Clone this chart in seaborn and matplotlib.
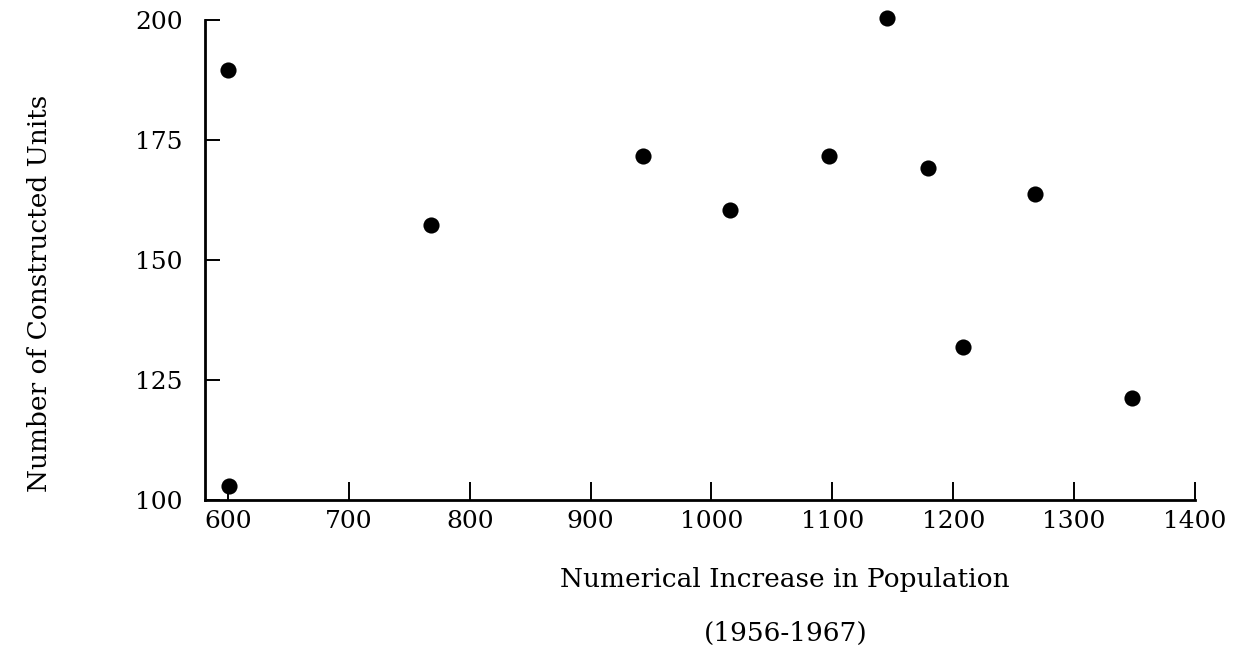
"""Scatter: constructed units vs numerical increase in population (1956-1967)."""
import matplotlib
matplotlib.use("Agg")
import matplotlib.pyplot as plt
import pandas as pd
import seaborn as sns

# values
pop_increase = [600, 601, 768, 943, 1015, 1097, 1145, 1179, 1208, 1268, 1348]
units_built = [189.5, 103, 157.3, 171.6, 160.4, 171.6, 200.4, 169.2, 131.8, 163.8, 121.3]
x_ticks = [600, 700, 800, 900, 1000, 1100, 1200, 1300, 1400]
y_ticks = [100, 125, 150, 175, 200]

df = pd.DataFrame({"increase": pop_increase, "units": units_built})

sns.set_style("ticks")
plt.rcParams["font.family"] = ["DejaVu Serif"]

fig = plt.figure(figsize=(12.5, 6.53), dpi=100)
ax = fig.add_axes([0.164, 0.2343, 0.792, 0.735])

sns.scatterplot(data=df, x="increase", y="units", ax=ax, color="black",
                s=135, edgecolor="black", linewidth=0, clip_on=False)

ax.set_xlim(581, 1400)
ax.set_ylim(100, 200)
ax.set_xticks(x_ticks)
ax.set_yticks(y_ticks)
ax.set_xlabel("")
ax.set_ylabel("")

sns.despine(ax=ax, top=True, right=True)
for side in ["left", "bottom"]:
    ax.spines[side].set_linewidth(2.0)
    ax.spines[side].set_color("black")

ax.tick_params(axis="both", direction="in", color="black", width=1.4,
               labelsize=18, labelcolor="black")
ax.tick_params(axis="y", length=11, pad=16)
ax.tick_params(axis="x", length=13, pad=7)

label_size = 19
fig.text(785 / 1250, 1 - 580 / 653, "Numerical Increase in Population",
         ha="center", va="center", fontsize=label_size, color="black")
fig.text(786 / 1250, 1 - 633 / 653, "(1956-1967)",
         ha="center", va="center", fontsize=label_size, color="black")
fig.text(40 / 1250, 1 - 293 / 653, "Number of Constructed Units",
         ha="center", va="center", rotation=90, fontsize=label_size, color="black")

fig.savefig("out.png", dpi=100, facecolor="white")
